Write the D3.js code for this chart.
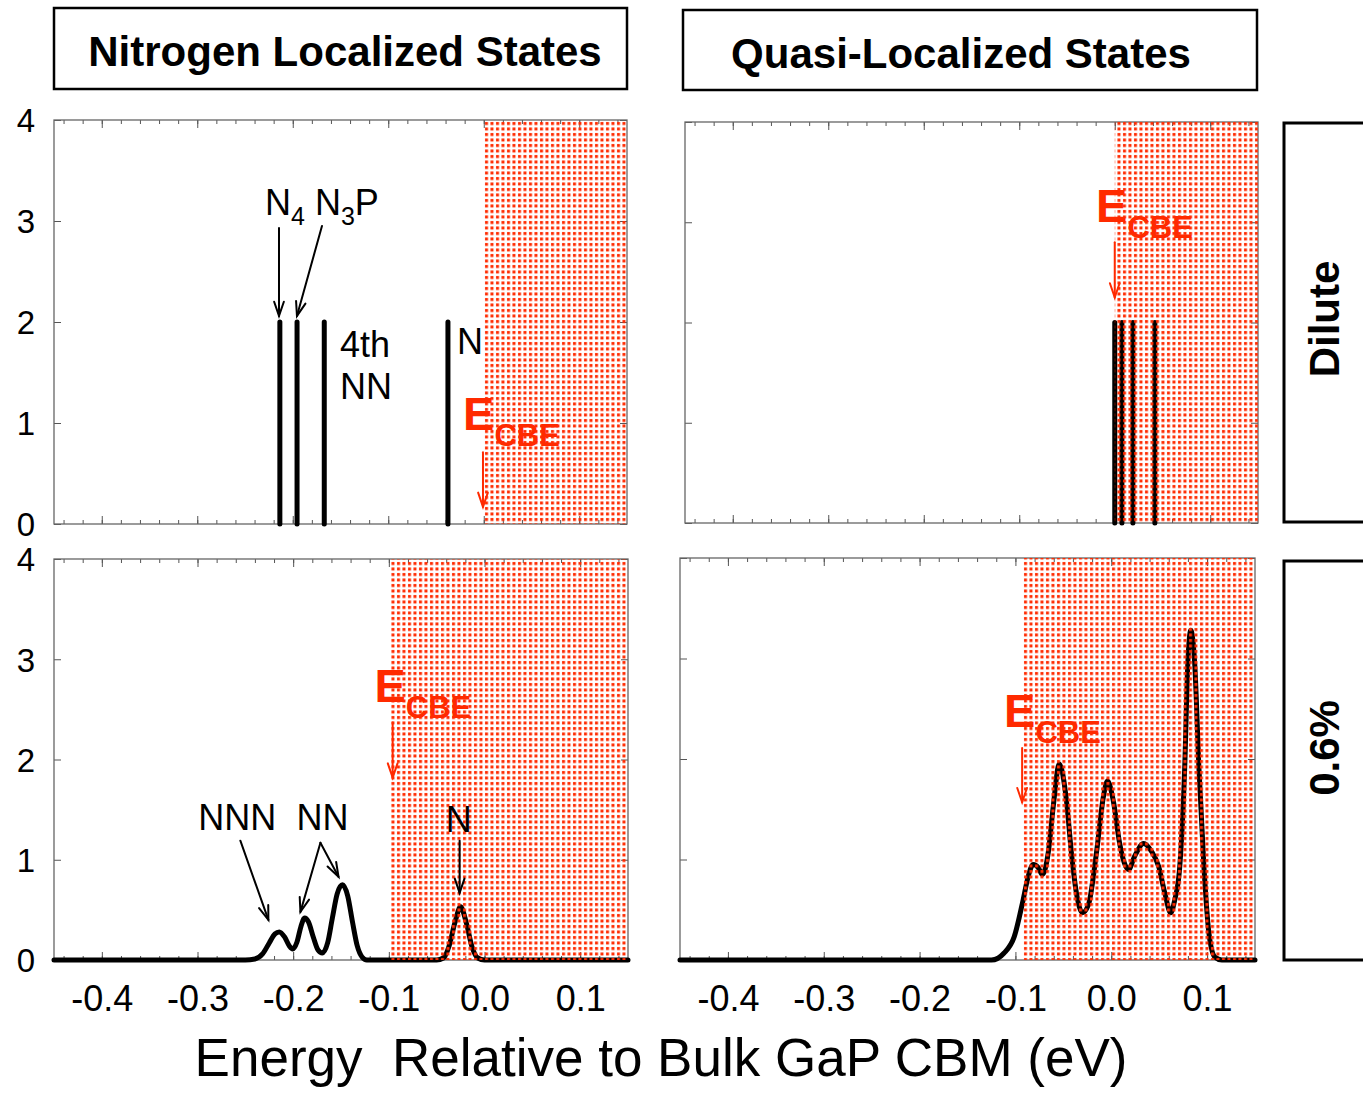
<!DOCTYPE html>
<html>
<head>
<meta charset="utf-8">
<script src="https://cdn.jsdelivr.net/npm/d3@7"></script>
<style>
  html,body{margin:0;padding:0;background:#fff;}
  svg{display:block;font-family:"Liberation Sans", Arial, Helvetica, sans-serif;}
</style>
</head>
<body>
<svg id="chart" width="1363" height="1094"></svg>
<script>
// ---------------- DATA ----------------
const xTicks = [-0.4, -0.3, -0.2, -0.1, 0.0, 0.1];
const xTickLabels = ["-0.4", "-0.3", "-0.2", "-0.1", "0.0", "0.1"];
const yTicks = [0, 1, 2, 3, 4];
const xDomain = [-0.45, 0.15];
const yDomain = [0, 4];

// Dilute: discrete levels (energy, DOS height)
const diluteNitrogenLevels = [-0.2135, -0.1955, -0.1670, -0.0375];
const diluteNitrogenHeights = [2, 2, 2, 2];
const diluteQuasiLevels = [0.0000, 0.0075, 0.0190, 0.0420];
const diluteQuasiHeights = [2, 2, 2, 2];

// Conduction band edge positions (start of shaded region)
const cbeDiluteN = 0.0;
const cbeDiluteQ = 0.0;
const cbeConcN = -0.098;
const cbeConcQ = -0.092;

// 0.6% : broadened DOS, nitrogen localized states
const concNitrogenE = [-0.45, -0.25, -0.240, -0.232, -0.225, -0.219, -0.2145, -0.209, -0.204, -0.2005,
  -0.196, -0.192, -0.188, -0.184, -0.179, -0.174, -0.1695, -0.164, -0.159, -0.154, -0.1485,
  -0.143, -0.138, -0.133, -0.128, -0.123, -0.05, -0.043, -0.037, -0.031, -0.025, -0.019,
  -0.013, -0.007, 0.0, 0.15];
const concNitrogenDOS = [0, 0, 0.01, 0.06, 0.17, 0.26, 0.28, 0.23, 0.14, 0.11,
  0.18, 0.33, 0.42, 0.38, 0.23, 0.10, 0.07, 0.17, 0.42, 0.66, 0.75,
  0.64, 0.38, 0.14, 0.03, 0, 0, 0.02, 0.14, 0.37, 0.53, 0.37,
  0.13, 0.02, 0, 0];

// 0.6% : broadened DOS, quasi-localized states
const concQuasiE = [-0.45, -0.125, -0.1118, -0.1013, -0.0919, -0.0867, -0.0814, -0.0762, -0.0720,
  -0.0657, -0.0605, -0.0542, -0.0469, -0.0416, -0.0364, -0.0301, -0.0238, -0.0154, -0.0081,
  -0.0039, 0.0024, 0.0086, 0.0181, 0.0243, 0.0338, 0.0421, 0.0495, 0.0558, 0.0620,
  0.0663, 0.0715, 0.0767, 0.0798, 0.0830, 0.0872, 0.0914, 0.0967, 0.1019, 0.1081, 0.1154, 0.15];
const concQuasiDOS = [0, 0, 0.07, 0.23, 0.60, 0.83, 0.95, 0.92, 0.85,
  1.07, 1.53, 1.95, 1.60, 1.07, 0.67, 0.47, 0.55, 1.07, 1.63,
  1.78, 1.57, 1.17, 0.90, 1.03, 1.16, 1.08, 0.93, 0.67, 0.47,
  0.60, 0.93, 1.93, 2.93, 3.28, 2.93, 1.93, 0.93, 0.27, 0.03, 0, 0];

const titles = ["Nitrogen Localized States", "Quasi-Localized States"];
const rowLabels = ["Dilute", "0.6%"];
const axisTitle = "Energy  Relative to Bulk GaP CBM (eV)";

// ---------------- LAYOUT ----------------
const RED = "#ff2a00";
const svg = d3.select("#chart");
const defs = svg.append("defs");
const pat = defs.append("pattern").attr("id", "dots")
  .attr("patternUnits", "userSpaceOnUse").attr("width", 5.5).attr("height", 5.5);
pat.append("rect").attr("x", 1).attr("y", 1).attr("width", 3).attr("height", 3).attr("fill", RED);

const panels = [
  {x0: 54, x1: 627, y0: 120, y1: 524, row: 0, col: 0},
  {x0: 685, x1: 1258, y0: 122, y1: 523, row: 0, col: 1},
  {x0: 54, x1: 628, y0: 559, y1: 960, row: 1, col: 0},
  {x0: 680, x1: 1255, y0: 558, y1: 960, row: 1, col: 1}
];
panels.forEach(p => {
  p.x = d3.scaleLinear().domain(xDomain).range([p.x0, p.x1]);
  p.y = d3.scaleLinear().domain(yDomain).range([p.y1, p.y0]);
  p.g = svg.append("g");
});

function frameAndAxes(p) {
  const g = p.g;
  const minor = d3.range(-44, 16, 2).map(v => v / 100).filter(v => v >= xDomain[0] && v <= xDomain[1]);
  const axG = g.append("g").attr("class", "axes").attr("stroke-width", 1);
  axG.append("g").attr("transform", `translate(0,${p.y1})`)
    .call(d3.axisBottom(p.x).tickValues(minor).tickSize(-4).tickFormat(""));
  axG.append("g").attr("transform", `translate(0,${p.y0})`)
    .call(d3.axisTop(p.x).tickValues(minor).tickSize(-4).tickFormat(""));
  axG.append("g").attr("transform", `translate(0,${p.y0})`)
    .call(d3.axisTop(p.x).tickValues(xTicks).tickSize(-8).tickFormat(""));
  const bx = axG.append("g").attr("transform", `translate(0,${p.y1})`)
    .call(d3.axisBottom(p.x).tickValues(xTicks).tickSize(-8).tickPadding(25)
      .tickFormat((d, i) => p.row === 1 ? xTickLabels[i] : ""));
  bx.selectAll("text").attr("font-size", 36).attr("fill", "#000");
  const ly = axG.append("g").attr("transform", `translate(${p.x0},0)`)
    .call(d3.axisLeft(p.y).tickValues(yTicks).tickSize(-7).tickPadding(19)
      .tickFormat(d => p.col === 0 ? d : ""));
  ly.selectAll("text").attr("font-size", 33).attr("fill", "#000").attr("dy", "0.36em");
  axG.append("g").attr("transform", `translate(${p.x1},0)`)
    .call(d3.axisRight(p.y).tickValues(yTicks).tickSize(-7).tickFormat(""));
  axG.selectAll(".domain").remove();
  axG.selectAll(".tick line").attr("stroke", "#555");
  g.append("rect").attr("x", p.x0).attr("y", p.y0).attr("width", p.x1 - p.x0).attr("height", p.y1 - p.y0)
    .attr("fill", "none").attr("stroke", "#666").attr("stroke-width", 1.3);
}

function shade(p, e0) {
  p.g.append("rect").attr("x", p.x(e0)).attr("y", p.y0)
    .attr("width", p.x(xDomain[1]) - p.x(e0)).attr("height", p.y1 - p.y0)
    .attr("fill", "url(#dots)");
}

function levels(p, es, hs) {
  p.g.append("g").selectAll("line").data(es).join("line")
    .attr("x1", d => p.x(d)).attr("x2", d => p.x(d))
    .attr("y1", p.y(0)).attr("y2", (d, i) => p.y(hs[i]))
    .attr("stroke", "#000").attr("stroke-width", 5).attr("stroke-linecap", "round");
}

function curve(p, es, vs) {
  const line = d3.line().x(d => p.x(d[0])).y(d => p.y(d[1])).curve(d3.curveMonotoneX);
  p.g.append("path").datum(es.map((e, i) => [e, vs[i]])).attr("d", line)
    .attr("fill", "none").attr("stroke", "#000").attr("stroke-width", 5)
    .attr("stroke-linejoin", "round").attr("stroke-linecap", "round");
}

function arrow(p, e1, v1, e2, v2, color, w) {
  const x1 = p.x(e1), y1 = p.y(v1), x2 = p.x(e2), y2 = p.y(v2);
  const a = Math.atan2(y2 - y1, x2 - x1), L = 15, s = 0.33;
  const g = p.g.append("g").attr("stroke", color).attr("stroke-width", w || 2).attr("fill", "none")
    .attr("stroke-linecap", "round");
  g.append("line").attr("x1", x1).attr("y1", y1).attr("x2", x2).attr("y2", y2);
  g.append("path").attr("d",
    `M${x2 - L * Math.cos(a - s)},${y2 - L * Math.sin(a - s)}L${x2},${y2}L${x2 - L * Math.cos(a + s)},${y2 - L * Math.sin(a + s)}`);
}

function label(p, e, v, parts, anchor) {
  const t = p.g.append("text").attr("x", p.x(e)).attr("y", p.y(v))
    .attr("text-anchor", anchor || "start").attr("fill", "#000");
  let shift = 0;
  parts.forEach(pt => {
    const sub = pt[1] === "sub";
    const target = sub ? 10 : 0;
    t.append("tspan").attr("dy", target - shift).attr("font-size", sub ? 25 : 36).text(pt[0]);
    shift = target;
  });
  return t;
}

function ecbe(p, e, v) {
  const t = p.g.append("text").attr("x", p.x(e)).attr("y", p.y(v)).attr("fill", RED)
    .attr("font-weight", "bold");
  t.append("tspan").attr("font-size", 47).text("E");
  t.append("tspan").attr("font-size", 31).attr("dy", 16).text("CBE");
}

// ---------- panel 0: dilute nitrogen ----------
let p = panels[0];
frameAndAxes(p);
levels(p, diluteNitrogenLevels, diluteNitrogenHeights);
shade(p, cbeDiluteN);
label(p, -0.229, 3.06, [["N"], ["4", "sub"], [" N"], ["3", "sub"], ["P"]]);
arrow(p, -0.2144, 2.93, -0.2144, 2.06, "#000", 2);
arrow(p, -0.1694, 2.95, -0.1956, 2.06, "#000", 2);
label(p, -0.1505, 1.65, [["4th"]]);
label(p, -0.1505, 1.24, [["NN"]]);
label(p, -0.028, 1.68, [["N"]]);
ecbe(p, -0.0217, 0.93);
arrow(p, -0.0008, 0.71, -0.0008, 0.17, RED, 2);

// ---------- panel 1: dilute quasi ----------
p = panels[1];
frameAndAxes(p);
levels(p, diluteQuasiLevels, diluteQuasiHeights);
shade(p, cbeDiluteQ);
ecbe(p, -0.0196, 3.0);
arrow(p, 0.0, 2.80, 0.0, 2.25, RED, 2);

// ---------- panel 2: 0.6% nitrogen ----------
p = panels[2];
frameAndAxes(p);
curve(p, concNitrogenE, concNitrogenDOS);
shade(p, cbeConcN);
label(p, -0.2584, 1.30, [["NNN"]], "middle");
arrow(p, -0.2552, 1.19, -0.2259, 0.40, "#000", 2);
label(p, -0.1694, 1.30, [["NN"]], "middle");
arrow(p, -0.1715, 1.17, -0.1924, 0.48, "#000", 2);
arrow(p, -0.1715, 1.17, -0.1526, 0.83, "#000", 2);
label(p, -0.027, 1.28, [["N"]], "middle");
arrow(p, -0.026, 1.19, -0.026, 0.67, "#000", 2);
ecbe(p, -0.115, 2.57);
arrow(p, -0.096, 2.37, -0.096, 1.82, RED, 2);

// ---------- panel 3: 0.6% quasi ----------
p = panels[3];
frameAndAxes(p);
curve(p, concQuasiE, concQuasiDOS);
shade(p, cbeConcQ);
ecbe(p, -0.1118, 2.32);
arrow(p, -0.093, 2.11, -0.093, 1.57, RED, 2);

// ---------- titles ----------
const titleBoxes = [{x0: 54, x1: 627, y0: 8, y1: 89, cx: 345}, {x0: 683, x1: 1257, y0: 10, y1: 90, cx: 961}];
titleBoxes.forEach((b, i) => {
  svg.append("rect").attr("x", b.x0).attr("y", b.y0).attr("width", b.x1 - b.x0).attr("height", b.y1 - b.y0)
    .attr("fill", "none").attr("stroke", "#000").attr("stroke-width", 2.5);
  svg.append("text").attr("x", b.cx).attr("y", b.y0 + 58).attr("text-anchor", "middle")
    .attr("font-weight", "bold").attr("font-size", 42).text(titles[i]);
});

// ---------- row labels ----------
const rowBoxes = [{y0: 123, y1: 522, cy: 319}, {y0: 561, y1: 960, cy: 748}];
rowBoxes.forEach((b, i) => {
  svg.append("path").attr("d", `M1400,${b.y0}H1284V${b.y1}H1400`)
    .attr("fill", "none").attr("stroke", "#000").attr("stroke-width", 3);
  svg.append("text").attr("transform", `translate(1339,${b.cy}) rotate(-90)`)
    .attr("text-anchor", "middle").attr("font-weight", "bold").attr("font-size", 42).text(rowLabels[i]);
});

// ---------- axis title ----------
svg.append("text").attr("x", 661).attr("y", 1076).attr("text-anchor", "middle")
  .attr("font-size", 53).style("white-space", "pre").text(axisTitle);
</script>
</body>
</html>
